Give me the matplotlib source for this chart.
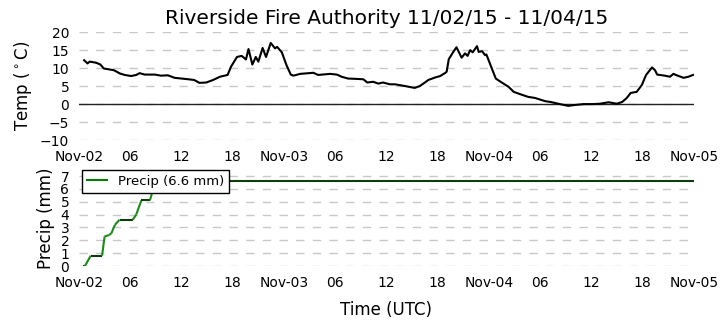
import matplotlib
matplotlib.use('Agg')
import matplotlib.pyplot as plt
import matplotlib.dates as mdates
from matplotlib.collections import LineCollection
import numpy as np
import pandas as pd

# temperature, hours after 2015-11-02 00:00 UTC
temp_hours = [0.6, 1.0, 1.25, 2.0, 2.5, 2.9, 3.4, 4.1, 4.8, 5.35, 6.1, 6.7, 7.1, 7.7, 8.9, 9.6,
              10.4, 11.2, 12.8, 13.5, 14.1, 14.9, 15.7, 16.5, 17.4, 17.8, 18.5, 19.05, 19.55,
              19.85, 20.3, 20.7, 21.0, 21.5, 21.9, 22.45, 22.95, 23.2, 23.75, 24.3, 24.8, 25.1,
              25.9, 27.45, 28.0, 29.4, 30.2, 30.75, 31.5, 32.5, 33.3, 33.75, 34.45, 35.05, 35.6,
              36.4, 37.0, 38.2, 39.3, 39.9, 40.5, 40.9, 41.7, 42.3, 42.9, 43.05, 43.3, 43.8,
              44.2, 44.8, 45.2, 45.5, 45.8, 46.1, 46.6, 46.8, 47.2, 47.55, 47.7, 48.8, 49.5,
              50.3, 50.9, 51.6, 52.6, 53.4, 54.6, 55.2, 56.3, 57.3, 57.9, 59.1, 60.25, 61.0,
              62.0, 63.0, 63.6, 64.1, 64.6, 65.3, 65.9, 66.4, 67.1, 67.45, 67.7, 68.6, 69.2,
              69.6, 70.1, 70.8, 71.35, 71.9]
temp_vals = [12.2, 11.3, 11.8, 11.5, 11.0, 9.9, 9.7, 9.4, 8.5, 8.1, 7.8, 8.1, 8.6, 8.2, 8.2, 7.9,
             8.0, 7.3, 6.9, 6.7, 5.9, 6.0, 6.7, 7.6, 8.1, 10.4, 13.1, 13.4, 12.4,
             15.3, 11.0, 13.1, 11.8, 15.6, 13.1, 17.0, 15.5, 15.9, 14.4, 10.8, 8.2, 7.9,
             8.4, 8.7, 8.1, 8.4, 8.2, 7.6, 7.1, 7.0, 6.9, 6.0, 6.2, 5.7, 6.0,
             5.5, 5.5, 5.0, 4.5, 5.0, 6.0, 6.7, 7.4, 7.8, 8.7, 9.0, 12.5, 14.4,
             15.8, 12.9, 14.1, 13.4, 15.0, 14.4, 16.1, 14.5, 14.7, 13.6, 13.8, 7.1, 6.0,
             4.8, 3.4, 2.8, 2.0, 1.7, 0.8, 0.6, 0.0, -0.5, -0.3, 0.0, 0.0, 0.1,
             0.5, 0.1, 0.6, 1.6, 3.1, 3.4, 5.3, 8.1, 10.2, 9.4, 8.2, 7.9, 7.6,
             8.4, 7.9, 7.3, 7.6, 8.1]

# cumulative precipitation
precip_hours = [0.47, 0.7, 1.37, 2.7, 3.0, 3.5, 3.8, 4.2, 4.75, 6.3, 6.7, 7.3, 8.3, 8.55, 8.9, 9.5, 72.0]
precip_vals = [0.0, 0.0, 0.8, 0.8, 2.3, 2.4, 2.55, 3.2, 3.6, 3.6, 4.0, 5.1, 5.1, 5.65, 6.2, 6.6, 6.6]

start = pd.Timestamp('2015-11-02 00:00')
end = pd.Timestamp('2015-11-05 00:00')
t_temp = start + pd.to_timedelta(temp_hours, unit='h')
t_precip = start + pd.to_timedelta(precip_hours, unit='h')


def fmt_time(x, pos=None):
    d = mdates.num2date(x)
    if d.hour == 0:
        return d.strftime('%b-%d')
    return d.strftime('%H')


def style_axis(ax):
    for s in ax.spines.values():
        s.set_visible(False)
    ax.tick_params(length=0, pad=7, labelsize=10)
    ax.yaxis.grid(True, color='#c8c8c8', linestyle=(0, (6, 6)), linewidth=1)
    ax.set_axisbelow(True)
    ax.set_xlim(start, end)
    ax.xaxis.set_major_locator(mdates.HourLocator(byhour=[0, 6, 12, 18]))
    ax.xaxis.set_major_formatter(plt.FuncFormatter(fmt_time))


fig = plt.figure(figsize=(7.26, 3.28), dpi=100)
ax1 = fig.add_axes([0.1088, 0.573, 0.847, 0.329])
ax2 = fig.add_axes([0.1088, 0.189, 0.847, 0.294])

style_axis(ax1)
ax1.axhline(0, color='#222222', linewidth=1)
ax1.plot(t_temp, temp_vals, color='black', linewidth=1.5)
ax1.set_ylim(-10, 20)
ax1.set_yticks(range(-10, 21, 5))
ax1.set_ylabel(r'Temp ($^\circ$C)', fontsize=12)
ax1.set_title('Riverside Fire Authority 11/02/15 - 11/04/15', fontsize=14.5, pad=6)

style_axis(ax2)
# rising parts green, flat parts dark green
xp = mdates.date2num(t_precip)
yp = np.array(precip_vals)
segs = [[(xp[i], yp[i]), (xp[i + 1], yp[i + 1])] for i in range(len(xp) - 1)]
cols = ['#0d3d0d' if yp[i] == yp[i + 1] else '#1a8a1a' for i in range(len(xp) - 1)]
ax2.add_collection(LineCollection(segs, colors=cols, linewidths=1.5))
ax2.plot([], [], color='green', linewidth=1.5, label='Precip (6.6 mm)')
ax2.set_ylim(0, 7.5)
ax2.set_yticks(range(0, 8))
ax2.set_ylabel('Precip (mm)', fontsize=12)
ax2.set_xlabel('Time (UTC)', fontsize=12, labelpad=8)
leg = ax2.legend(loc='upper left', bbox_to_anchor=(0.005, 1.0), borderaxespad=0,
                 fontsize=9.5, handlelength=1.5, fancybox=False, framealpha=1)
leg.get_frame().set_edgecolor('black')
leg.get_frame().set_linewidth(1)

fig.savefig('out.png', dpi=100)
